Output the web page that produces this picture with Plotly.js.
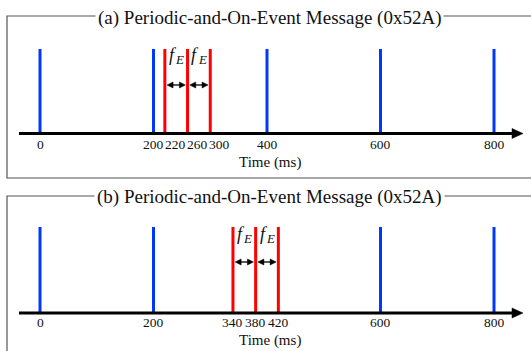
<!DOCTYPE html>
<html><head><meta charset="utf-8">
<script src="https://cdn.plot.ly/plotly-3.0.1.min.js"></script>
<style>html,body{margin:0;padding:0;background:#fff}#chart{width:531px;height:351px}</style>
</head><body><div id="chart"></div>
<script>
// ---------------- data ----------------
const panelTitles = ['(a) Periodic-and-On-Event Message (0x52A)', '(b) Periodic-and-On-Event Message (0x52A)'];
const periodicTimesA = [0, 200, 400, 600, 800];   // ms, periodic transmissions (blue)
const eventTimesA    = [220, 260, 300];           // ms, on-event transmissions (red)
const periodicTimesB = [0, 200, 600, 800];
const eventTimesB    = [340, 380, 420];
const axisTitleText  = 'Time (ms)';
const gapSymbol = 'f', gapSubscript = 'E';        // f_E label between on-event messages
const msgLevel = 1;

// ---------------- styling / geometry ----------------
const W = 531, H = 351;
const FONT = "'Liberation Serif', 'Times New Roman', serif";
const BLUE = '#0038ff', RED = '#ff0000';
const zeroPx = 40, k = (494 - 40) / 800;          // px per ms
const xRange = [-zeroPx / k, (W - zeroPx) / k];
const toX = px => (px - zeroPx) / k;
const paperY = py => 1 - py / H;

const panels = [
  {periodic: periodicTimesA, events: eventTimesA, title: panelTitles[0],
   topPx: 0, botPx: 186, axisPx: 133.5, msgTopPx: 49, boxTop: 16, boxBot: 178, titleY: 18,
   tickShift: -11, axTitleShift: -29, fPx: 55, arrowPx: 85},
  {periodic: periodicTimesB, events: eventTimesB, title: panelTitles[1],
   topPx: 186, botPx: 351, axisPx: 313, msgTopPx: 227, boxTop: 196, boxBot: 420, titleY: 197,
   tickShift: -9, axTitleShift: -27, fPx: 234, arrowPx: 262}
];

const data = [];
const annotations = [];
const shapes = [];
const layout = {
  width: W, height: H, margin: {l: 0, r: 0, t: 0, b: 0},
  paper_bgcolor: '#fff', plot_bgcolor: 'rgba(0,0,0,0)',
  showlegend: false, font: {family: FONT, color: '#111'}
};

// filled arrow head (pixel-sized) pointing along dir (+1 right, -1 left)
const head = (xa, ya, x, y, dir, len, half) => ({
  type: 'path', xref: xa, yref: ya, xsizemode: 'pixel', ysizemode: 'pixel', xanchor: x, yanchor: y,
  path: `M0,0 L${-dir * len},${half} L${-dir * len},${-half} Z`,
  fillcolor: '#000', line: {color: '#000', width: 0.5}, layer: 'above'
});

panels.forEach((p, i) => {
  const xa = i === 0 ? 'x' : 'x2', ya = i === 0 ? 'y' : 'y2';
  const xKey = i === 0 ? 'xaxis' : 'xaxis2', yKey = i === 0 ? 'yaxis' : 'yaxis2';
  const s = (p.axisPx - p.msgTopPx) / msgLevel;
  const yVal = py => (p.axisPx - py) / s;
  layout[xKey] = {domain: [0, 1], range: xRange, visible: false, fixedrange: true, anchor: ya};
  layout[yKey] = {domain: [paperY(p.botPx), paperY(p.topPx)],
                  range: [yVal(p.botPx), yVal(p.topPx)], visible: false, fixedrange: true, anchor: xa};

  const spikes = (times, color) => {
    const xs = [], ys = [];
    times.forEach(t => { xs.push(t, t, null); ys.push(0, msgLevel, null); });
    data.push({type: 'scatter', mode: 'lines', x: xs, y: ys, xaxis: xa, yaxis: ya,
               line: {color: color, width: 3}, hoverinfo: 'skip'});
  };
  spikes(p.periodic, BLUE);
  spikes(p.events, RED);

  // panel box
  shapes.push({type: 'rect', xref: 'paper', yref: 'paper', x0: 7 / W, x1: 1.02,
               y0: paperY(p.boxBot), y1: paperY(p.boxTop), line: {color: '#555', width: 1.2}});
  // panel title
  annotations.push({xref: 'paper', yref: 'paper', x: 269.5 / W, y: paperY(p.titleY),
                    xanchor: 'center', yanchor: 'middle', text: p.title, showarrow: false,
                    bgcolor: '#fff', borderpad: 2, font: {family: FONT, size: 19, color: '#111'}});
  // time axis with arrow
  shapes.push({type: 'line', xref: xa, yref: ya, x0: toX(19), x1: toX(513), y0: 0, y1: 0,
               line: {color: '#000', width: 3}, layer: 'above'});
  shapes.push(head(xa, ya, toX(523), 0, 1, 11, 5));
  // axis title
  annotations.push({xref: 'paper', yref: ya, x: 270 / W, y: 0, yshift: p.axTitleShift,
                    xanchor: 'center', yanchor: 'middle', text: axisTitleText, showarrow: false,
                    font: {family: FONT, size: 15, color: '#111'}});
  // tick labels at every transmission time, nudged apart when they would collide
  const times = p.periodic.concat(p.events).sort((a, b) => a - b);
  const minSep = 22;
  const centers = times.map(t => zeroPx + t * k);
  for (let j = 1; j < centers.length; j++) centers[j] = Math.max(centers[j], centers[j - 1] + minSep);
  times.forEach((t, j) => {
    annotations.push({xref: xa, yref: ya, x: t, y: 0, yshift: p.tickShift,
                      xshift: centers[j] - (zeroPx + t * k),
                      xanchor: 'center', yanchor: 'middle', text: String(t), showarrow: false,
                      font: {family: FONT, size: 13.5, color: '#111'}});
  });
  // f_E gaps between consecutive event messages
  const off = 2.2 / k;   // keep arrow tips just off the red lines
  for (let j = 1; j < p.events.length; j++) {
    const a = p.events[j - 1], b = p.events[j];
    const mid = (a + b) / 2, ay = yVal(p.arrowPx), fy = yVal(p.fPx);
    annotations.push({xref: xa, yref: ya, x: mid, y: fy, xanchor: 'center', yanchor: 'middle', xshift: -3.5,
                      borderpad: 0, text: '<i>' + gapSymbol + '</i>', showarrow: false,
                      font: {family: FONT, size: 18, color: '#111'}});
    annotations.push({xref: xa, yref: ya, x: mid, y: fy, xanchor: 'center', yanchor: 'middle', xshift: 3.5, yshift: -4,
                      borderpad: 0, text: '<i>' + gapSubscript + '</i>', showarrow: false,
                      font: {family: FONT, size: 13, color: '#111'}});
    shapes.push({type: 'line', xref: xa, yref: ya, x0: a + off + 3 / k, x1: b - off - 3 / k, y0: ay, y1: ay,
                 line: {color: '#000', width: 1.3}, layer: 'above'});
    shapes.push(head(xa, ya, a + off, ay, -1, 6, 3));
    shapes.push(head(xa, ya, b - off, ay, 1, 6, 3));
  }
});
layout.annotations = annotations;
layout.shapes = shapes;

Plotly.newPlot('chart', data, layout, {displayModeBar: false, staticPlot: true});
</script>
</body></html>
